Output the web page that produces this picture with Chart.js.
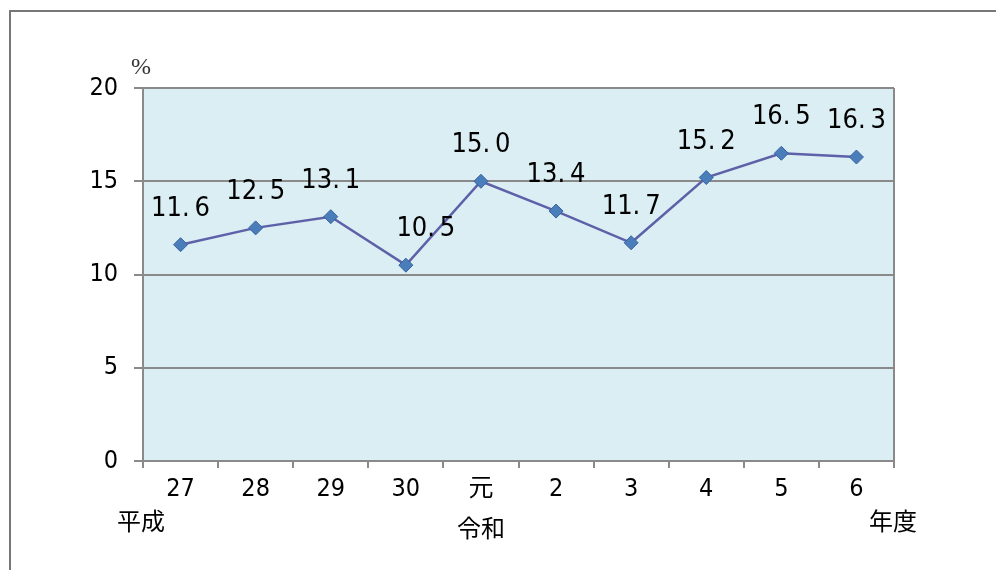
<!DOCTYPE html>
<html>
<head>
<meta charset="utf-8">
<script src="https://cdn.jsdelivr.net/npm/chart.js@4"></script>
<style>
  html, body { margin: 0; padding: 0; background: #fff; }
  .frame { position: absolute; left: 9px; top: 10px; width: 1000px; height: 600px;
           border-top: 2px solid #777; border-left: 2px solid #777; }
  .wrap { position: absolute; left: 0; top: 0; width: 996px; height: 570px; }
</style>
</head>
<body>
<div class="frame"></div>
<div class="wrap"><canvas id="myChart" width="996" height="570"></canvas></div>
<script>
const years = ['27', '28', '29', '30', '元', '2', '3', '4', '5', '6'];
const rates = [11.6, 12.5, 13.1, 10.5, 15.0, 13.4, 11.7, 15.2, 16.5, 16.3];
const yTicks = [0, 5, 10, 15, 20];
const unitLabel = '%';
const eraLabels = ['平成', '令和', '年度'];

const jpFont = '"Noto Sans CJK JP", "Noto Sans", sans-serif';
const numFont = '"DejaVu Sans Condensed", "Liberation Sans Narrow", "Noto Sans CJK JP", sans-serif';

// light blue plot area + gray frame round it
const plotBox = {
  id: 'plotBox',
  beforeDraw(chart) {
    const { ctx, chartArea: a } = chart;
    ctx.save();
    ctx.fillStyle = '#DAEEF3';
    ctx.fillRect(a.left, a.top, a.right - a.left, a.bottom - a.top);
    ctx.restore();
  },
  beforeDatasetsDraw(chart) {
    const { ctx, chartArea: a } = chart;
    ctx.save();
    ctx.strokeStyle = '#8a8a8a';
    ctx.lineWidth = 2;
    ctx.beginPath();
    ctx.moveTo(a.right, a.top);
    ctx.lineTo(a.right, a.bottom);
    ctx.stroke();
    ctx.restore();
  }
};

// value labels, era names and the % unit
const extraText = {
  id: 'extraText',
  afterDatasetsDraw(chart) {
    const { ctx, chartArea: a, scales } = chart;
    const meta = chart.getDatasetMeta(0);
    ctx.save();
    ctx.fillStyle = '#000';
    ctx.textAlign = 'center';
    ctx.textBaseline = 'middle';
    ctx.font = '27px ' + numFont;
    meta.data.forEach((pt, i) => {
      const txt = rates[i].toFixed(1).replace('.', '.\u2009');
      // the 10.5 label sits a little right of its point in the original
      const dx = rates[i] === 10.5 ? 20 : 0;
      ctx.fillText(txt, pt.x + dx, pt.y - 36);
    });

    ctx.font = '24px ' + jpFont;
    ctx.fillText(eraLabels[0], a.left - 2, 521);
    ctx.fillText(eraLabels[1], scales.x.getPixelForValue(4), 528);
    ctx.fillText(eraLabels[2], a.right - 1, 521);

    ctx.fillStyle = '#333';
    ctx.font = '24px "Liberation Serif", "DejaVu Serif", serif';
    ctx.fillText(unitLabel, a.left - 2, 68);
    ctx.restore();
  }
};

new Chart(document.getElementById('myChart'), {
  type: 'line',
  data: {
    labels: years,
    datasets: [{
      data: rates,
      borderColor: '#5E60A8',
      borderWidth: 2.5,
      pointStyle: 'rectRot',
      pointRadius: 7,
      pointBackgroundColor: '#4A7EBB',
      pointBorderColor: '#3A62A0',
      pointBorderWidth: 1,
      tension: 0
    }]
  },
  options: {
    responsive: false,
    animation: false,
    layout: { padding: { left: 0, right: 102, top: 88, bottom: 0 } },
    plugins: { legend: { display: false }, tooltip: { enabled: false } },
    scales: {
      x: {
        offset: true,
        grid: { offset: true, drawOnChartArea: false, color: '#8a8a8a', lineWidth: 2, tickLength: 7 },
        border: { color: '#8a8a8a', width: 2 },
        ticks: { color: '#000', font: { family: numFont, size: 25 }, padding: 6, maxRotation: 0 },
        afterFit(scale) { scale.height = 109; }
      },
      y: {
        min: 0,
        max: 20,
        afterBuildTicks(scale) { scale.ticks = yTicks.map(v => ({ value: v })); },
        grid: { color: '#8a8a8a', lineWidth: 2, tickLength: 9 },
        border: { color: '#8a8a8a', width: 2 },
        ticks: { color: '#000', font: { family: numFont, size: 25 }, padding: 16 },
        afterFit(scale) { scale.width = 143; }
      }
    }
  },
  plugins: [plotBox, extraText]
});
</script>
</body>
</html>
